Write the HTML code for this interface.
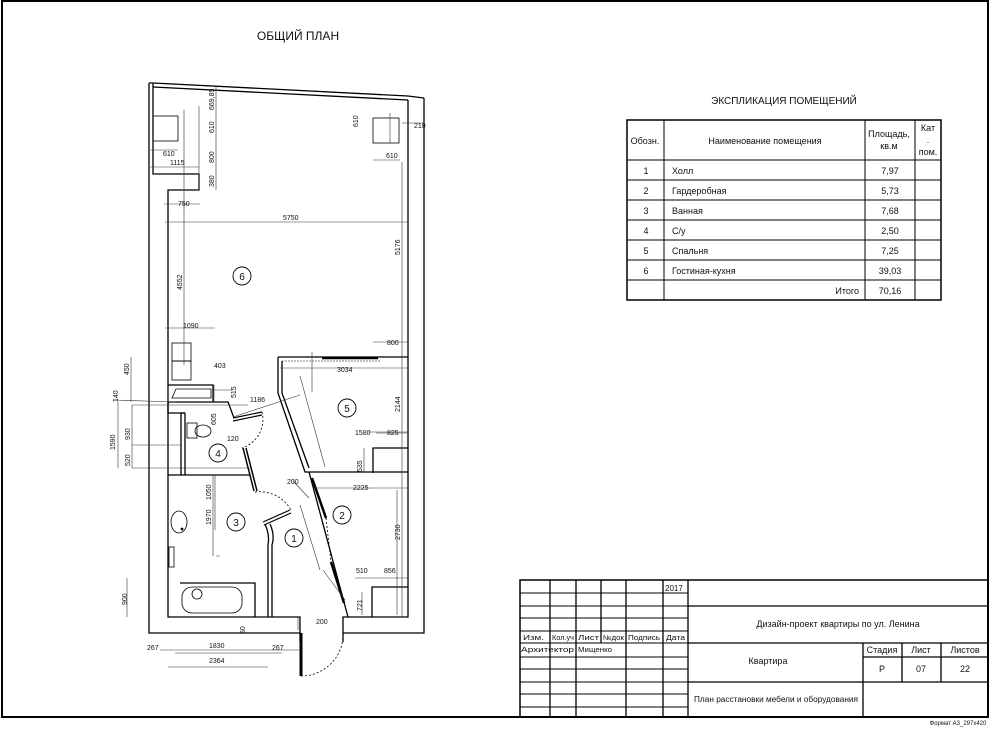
<!DOCTYPE html>
<html><head><meta charset="utf-8"><style>
html,body{margin:0;padding:0;background:#fff;}
svg{display:block;}
text{font-family:"Liberation Sans Narrow","Liberation Sans","DejaVu Sans",sans-serif;fill:#111;}
</style></head><body>
<svg width="995" height="729" viewBox="0 0 995 729" xmlns="http://www.w3.org/2000/svg">
<path d="M2 1 H988 V717 H2 Z" fill="none" stroke="#000" stroke-width="2"/>
<text x="298" y="40" font-size="12" text-anchor="middle">ОБЩИЙ ПЛАН</text>
<text x="784" y="104" font-size="10" text-anchor="middle">ЭКСПЛИКАЦИЯ ПОМЕЩЕНИЙ</text>

<g stroke="#000" stroke-width="1" fill="none">
<rect x="627" y="120" width="314" height="180" stroke-width="1.5"/>
<line x1="627" y1="160" x2="941" y2="160"/>
<line x1="627" y1="180" x2="941" y2="180"/>
<line x1="627" y1="200" x2="941" y2="200"/>
<line x1="627" y1="220" x2="941" y2="220"/>
<line x1="627" y1="240" x2="941" y2="240"/>
<line x1="627" y1="260" x2="941" y2="260"/>
<line x1="627" y1="280" x2="941" y2="280"/>
<line x1="664" y1="120" x2="664" y2="300"/>
<line x1="865" y1="120" x2="865" y2="300"/>
<line x1="915" y1="120" x2="915" y2="300"/>
</g>
<g font-size="9">
<text x="645" y="144" text-anchor="middle">Обозн.</text>
<text x="765" y="144" text-anchor="middle">Наименование помещения</text>
<text x="889" y="137" text-anchor="middle">Площадь,</text>
<text x="889" y="149" text-anchor="middle">кв.м</text>
<text x="928" y="131" text-anchor="middle">Кат</text>
<text x="928" y="143" text-anchor="middle">.</text>
<text x="928" y="155" text-anchor="middle">пом.</text>
<text x="646" y="174" text-anchor="middle">1</text><text x="672" y="174">Холл</text><text x="890" y="174" text-anchor="middle">7,97</text>
<text x="646" y="194" text-anchor="middle">2</text><text x="672" y="194">Гардеробная</text><text x="890" y="194" text-anchor="middle">5,73</text>
<text x="646" y="214" text-anchor="middle">3</text><text x="672" y="214">Ванная</text><text x="890" y="214" text-anchor="middle">7,68</text>
<text x="646" y="234" text-anchor="middle">4</text><text x="672" y="234">С/у</text><text x="890" y="234" text-anchor="middle">2,50</text>
<text x="646" y="254" text-anchor="middle">5</text><text x="672" y="254">Спальня</text><text x="890" y="254" text-anchor="middle">7,25</text>
<text x="646" y="274" text-anchor="middle">6</text><text x="672" y="274">Гостиная-кухня</text><text x="890" y="274" text-anchor="middle">39,03</text>
<text x="859" y="294" text-anchor="end">Итого</text><text x="890" y="294" text-anchor="middle">70,16</text>
</g>

<g stroke="#000" fill="none" stroke-width="1.3">
<path d="M149 83 V633 H300 V642"/>
<path d="M343 642 V633 H424 V98"/>
<path d="M149 83 L153 83 L408 96 L424 98"/>
<path d="M153 87 L408 100"/>
<path d="M153 83 V174 H199 V190 H168 V617 H300 V633"/>
<path d="M408 100 V617 H343 V633"/>
<path d="M278 357 H408"/>
<path d="M282 361 H380" stroke="#999" stroke-dasharray="2 1"/>
<path d="M278 357 V393 L305 472 H408"/>
<path d="M282 361 V393 L309 468"/>
<path d="M373 473 V448 H408"/>
<path d="M309 472 L348 617"/>
<path d="M372 617 V587 H408"/>
<path d="M168 385 H213 V402 H168"/>
<path d="M213 402 H228 L234 418"/>
<path d="M181 413 V475 M185 413 V475 M181 413 H185"/>
<path d="M168 475 H250"/>
<path d="M168 402 V413 H185"/>
<path d="M265 524 Q270 535 268 545 V617 M270 524 Q275 535 272 545 V617"/>
<path d="M180 583 H255 V617"/>
</g>
<g stroke="#000" fill="none" stroke-width="0.8">
<rect x="153" y="116" width="25" height="25"/>
<rect x="373" y="118" width="26" height="25"/>
<rect x="172" y="343" width="19" height="18"/><rect x="172" y="361" width="19" height="19"/>
<path d="M172 398 L176 389 H211 V398 Z"/>
<rect x="187" y="423" width="10" height="15"/><ellipse cx="203" cy="431" rx="8" ry="6"/>
<ellipse cx="179" cy="522" rx="8" ry="11"/>
<rect x="169" y="547" width="5" height="20"/>
<rect x="182" y="587" width="60" height="26" rx="10"/>
<circle cx="197" cy="594" r="5"/>
<circle cx="182" cy="529" r="1" fill="#000"/>
<path d="M233 418 L262 412 M233 421 L262 415" stroke-width="1.2"/>
<path d="M262 412 A30 30 0 0 1 242 448" stroke-dasharray="2 2"/>
<path d="M243 448 L254 491 M246 448 L257 491" stroke-width="1.5"/>
<path d="M263 522 L290 510 M264 525 L291 513" stroke-width="1.2"/>
<path d="M255 492 A36 36 0 0 1 291 510" stroke-dasharray="2 2"/>
<path d="M301 633 V676" stroke-width="3"/>
<path d="M301 676 A42 42 0 0 0 343 638" stroke-dasharray="2 2"/>
<path d="M312 478 L326 518 M331 562 L344 603" stroke-width="2.5"/>
<path d="M326 518 L331 562" stroke-dasharray="2 2"/>
<path d="M322 358 H378" stroke-width="2.5"/>
</g>
<g stroke="#333" stroke-width="0.6" fill="none">
<path d="M216 86 V190 M199 106 V190"/>
<path d="M150 150 H178 M150 167 H199 M164 204 H200 M165 222 H408 M184 110 V365 M165 328 H215 M390 113 V143 M373 160 H400 M402 123 H424 M402 162 V617 M373 342 H408 M280 368 H408 M312 352 V392"/>
<path d="M300 376 L325 467 M368 432 H408 M376 433 L408 433 M364 448 V472 M314 488 H408 M397 490 V615 M355 578 H408 M362 592 V615"/>
<path d="M113 400 L176 402 M131 357 V402 M132 405 V468 M118 402 V468 M132 405 H248 M132 445 H181 M132 468 H250 M215 475 V530 M213 475 V556 M220 556 H216"/>
<path d="M127 578 V617 M160 650 H300 M175 653 H282 M168 667 H268 M298 617 V630"/>
<path d="M233 417 L300 395 M214 385 V402 M212 390 H232 M293 481 L309 498 M300 505 L320 570 M323 570 L345 600"/>
</g>
<g font-size="7">
<text x="163" y="156">610</text><text x="170" y="165">1115</text>
<text x="178" y="206">750</text><text x="283" y="220">5750</text>
<text x="183" y="328">1090</text><text x="386" y="158">610</text><text x="414" y="128">210</text>
<text x="387" y="345">800</text><text x="337" y="372">3034</text><text x="214" y="368">403</text>
<text x="250" y="402">1186</text><text x="227" y="441">120</text><text x="355" y="435">1580</text>
<text x="387" y="435">825</text><text x="353" y="490">2225</text><text x="287" y="484">200</text>
<text x="356" y="573">510</text><text x="384" y="573">856</text><text x="316" y="624">200</text>
<text x="147" y="650">267</text><text x="209" y="648">1830</text><text x="272" y="650">267</text>
<text x="209" y="663">2364</text>
<g transform="rotate(-90)">
<text x="-110" y="214">669,85</text><text x="-133" y="214">610</text><text x="-163" y="214">800</text>
<text x="-187" y="214">380</text><text x="-290" y="182">4552</text><text x="-255" y="400">5176</text>
<text x="-127" y="358">610</text><text x="-412" y="400">2144</text><text x="-472" y="362">535</text>
<text x="-540" y="400">2730</text><text x="-611" y="362">721</text>
<text x="-375" y="129">450</text><text x="-402" y="118">140</text><text x="-440" y="130">930</text>
<text x="-466" y="130">520</text><text x="-450" y="115">1590</text><text x="-500" y="211">1050</text>
<text x="-525" y="211">1970</text><text x="-605" y="127">900</text><text x="-634" y="245">50</text>
<text x="-398" y="236">515</text><text x="-425" y="216">605</text>
</g>
</g>
<g stroke="#000" fill="none" stroke-width="0.9">
<circle cx="242" cy="276" r="9"/><circle cx="347" cy="408" r="9"/><circle cx="218" cy="453" r="9"/>
<circle cx="236" cy="522" r="9"/><circle cx="294" cy="538" r="9"/><circle cx="342" cy="515" r="9"/>
</g>
<g font-size="10" text-anchor="middle">
<text x="242" y="280">6</text><text x="347" y="412">5</text><text x="218" y="457">4</text>
<text x="236" y="526">3</text><text x="294" y="542">1</text><text x="342" y="519">2</text>
</g>

<g stroke="#000" fill="none" stroke-width="1">
<rect x="520" y="580" width="468" height="137" stroke-width="1.5"/>
<path d="M550 580 V718 M576 580 V718 M601 580 V643 M626 580 V718 M663 580 V718 M688 580 V718" stroke-width="1.3"/>
<path d="M520 593 H688 M520 606 H688 M520 618 H688 M520 631 H688 M520 643 H688 M520 657 H688 M520 669 H688 M520 682 H688 M520 694 H688 M520 707 H688"/>
<path d="M688 606 H988 M688 643 H988 M688 682 H988 M863 643 V718 M902 643 V682 M941 643 V682 M863 657 H988" stroke-width="1.3"/>
</g>
<g font-size="9">
<text x="665" y="591" font-size="8">2017</text>
<text x="523" y="640" font-size="7" textLength="21" lengthAdjust="spacingAndGlyphs">Изм.</text>
<text x="552" y="640" font-size="7" textLength="22" lengthAdjust="spacingAndGlyphs">Кол.уч</text>
<text x="578" y="640" font-size="7" textLength="21" lengthAdjust="spacingAndGlyphs">Лист</text>
<text x="603" y="640" font-size="7" textLength="21" lengthAdjust="spacingAndGlyphs">№док</text>
<text x="628" y="640" font-size="7" textLength="32" lengthAdjust="spacingAndGlyphs">Подпись</text>
<text x="666" y="640" font-size="7" textLength="19" lengthAdjust="spacingAndGlyphs">Дата</text>
<text x="521" y="652" font-size="7" textLength="53" lengthAdjust="spacingAndGlyphs">Архитектор</text>
<text x="578" y="652" font-size="7" textLength="34" lengthAdjust="spacingAndGlyphs">Мищенко</text>
<text x="838" y="627" text-anchor="middle">Дизайн-проект квартиры по ул. Ленина</text>
<text x="768" y="664" text-anchor="middle">Квартира</text>
<text x="882" y="653" text-anchor="middle">Стадия</text><text x="921" y="653" text-anchor="middle">Лист</text>
<text x="965" y="653" text-anchor="middle">Листов</text>
<text x="882" y="672" text-anchor="middle">Р</text><text x="921" y="672" text-anchor="middle">07</text>
<text x="965" y="672" text-anchor="middle">22</text>
<text x="694" y="702" font-size="8" textLength="164" lengthAdjust="spacingAndGlyphs">План расстановки мебели и оборудования</text>
</g>
<text x="958" y="725" font-size="6" text-anchor="middle">Формат А3_297х420</text>
</svg>
</body></html>
